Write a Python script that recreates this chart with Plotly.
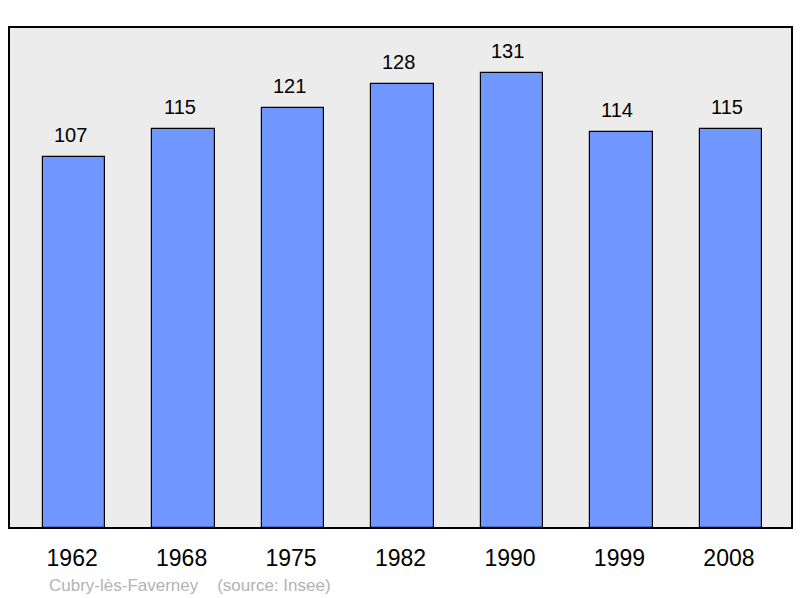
import plotly.graph_objects as go

years = ["1962", "1968", "1975", "1982", "1990", "1999", "2008"]
population = [107, 115, 121, 128, 131, 114, 115]
footer_text = "Cubry-lès-Faverney    (source: Insee)"

fig = go.Figure()
fig.add_trace(go.Bar(
    x=list(range(len(years))), y=population,
    width=0.572,
    marker=dict(color="#7096ff", line=dict(color="#000000", width=1.2)),
    hoverinfo="skip",
))

for i, v in enumerate(population):
    fig.add_annotation(x=i, y=v, text=str(v), showarrow=False,
                       yanchor="bottom", yshift=9, xshift=-4,
                       font=dict(family="Liberation Sans, Arial", size=20, color="#000000"))

fig.add_annotation(xref="paper", yref="paper", x=0.048, y=-0.114,
                   xanchor="left", yanchor="middle", showarrow=False,
                   text=footer_text,
                   font=dict(family="Liberation Sans, Arial", size=17, color="#b3b3b3"))

fig.add_shape(type="rect", xref="paper", yref="paper", x0=0, x1=1, y0=0, y1=1,
              line=dict(color="#000000", width=2), layer="above")

fig.update_layout(
    width=800, height=598,
    margin=dict(l=9, r=8, t=27, b=70),
    paper_bgcolor="#ffffff",
    plot_bgcolor="#ececec",
    showlegend=False,
    bargap=0,
    xaxis=dict(range=[-0.595, 6.558], showgrid=False, zeroline=False,
               tickmode="array", tickvals=list(range(len(years))), ticktext=years,
               ticks="outside", ticklen=9, tickcolor="rgba(0,0,0,0)",
               ticklabelshift=-2,
               tickfont=dict(family="Liberation Sans, Arial", size=23, color="#000000"),
               showline=False, fixedrange=True),
    yaxis=dict(range=[0, 144.3], showgrid=False, zeroline=False, showticklabels=False,
               showline=False, fixedrange=True),
)

fig.write_html("out.html", config={"displayModeBar": False},
               post_script="document.body.style.margin='0';document.body.style.overflow='hidden';")
